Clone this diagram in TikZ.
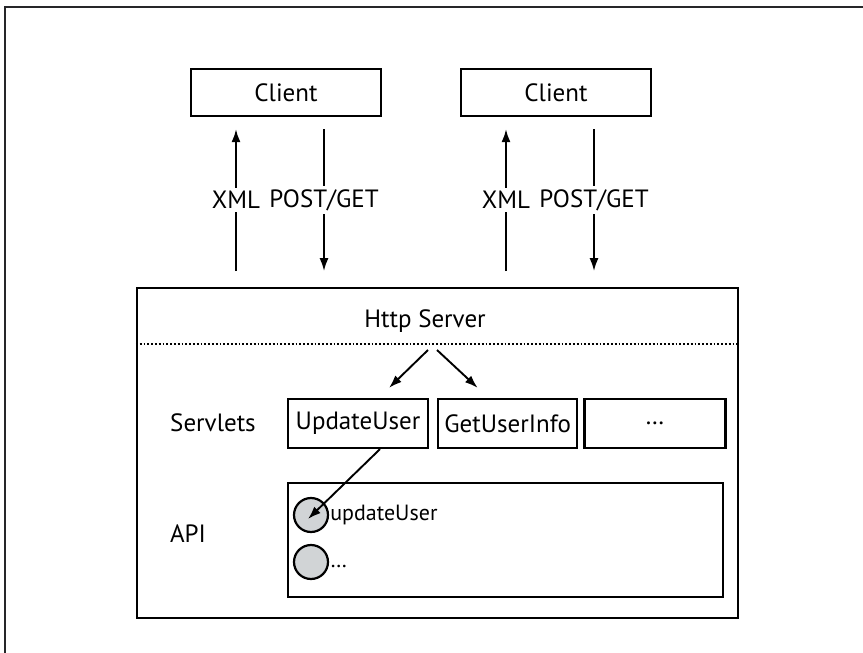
\documentclass[tikz,border=0pt]{standalone}
\usepackage{fontspec}
\setmainfont{PT Sans}
\usepackage{tikz}
\usetikzlibrary{arrows.meta,calc,positioning}
\definecolor{framegray}{rgb}{0.15,0.15,0.16}
\definecolor{methodgray}{rgb}{0.82,0.83,0.84}

\begin{document}
\begin{tikzpicture}[x=1pt, y=-1pt, font=\fontsize{25}{30}\selectfont,
    box/.style={draw, line width=2.2pt, inner sep=0pt},
    flow/.style={-{Latex[length=13pt,width=9pt]}, line width=1.9pt},
    lbl/.style={fill=white, inner sep=3pt}]
        \useasboundingbox (0,0) rectangle (863,653);
        % Draw the outer frame
        \draw[framegray, line width=2.8pt] (5,653) -- (5,7) -- (863,7);

        % Draw the two clients with their request and reply arrows
        \foreach \c/\x in {client1/286, client2/556} {
            \node[box, minimum width=190pt, minimum height=47pt] (\c) at (\x,92.5) {Client};
            \draw[flow] ([xshift=-50pt,yshift=-154pt]\c.south) -- node[lbl] {XML} ([xshift=-50pt,yshift=-12pt]\c.south);
            \draw[flow] ([xshift=38pt,yshift=-12pt]\c.south) -- node[lbl] {POST/GET} ([xshift=38pt,yshift=-154pt]\c.south);
          }

        % Draw the server box
        \node[box, minimum width=601pt, minimum height=330pt] (server) at (437.5,453) {};
        \node (http) at (425,321) {Http Server};
        \draw[line width=1.8pt, dotted] (server.west |- 0,344) -- (server.east |- 0,344);

        % Draw the servlets
        \node (servlets) at (213,423) {Servlets};
        \node[box, minimum width=140pt, minimum height=49pt] (upd) at (358,423.5) {UpdateUser};
        \node[box, minimum width=139pt, minimum height=49pt, right=8pt of upd] (info) {GetUserInfo};
        \node[box, minimum width=141pt, minimum height=49pt, right=5pt of info] (more) {\dots};

        % Draw the dispatch arrows
        \coordinate (split) at (432,350);
        \draw[flow] ([xshift=-4pt]split) -- ([xshift=31pt,yshift=10pt]upd.north);
        \draw[flow] ([xshift=5pt]split) -- ([xshift=-30pt,yshift=10pt]info.north);

        % Draw the API box with its methods
        \node (api) at (188,534) {API};
        \node[box, minimum width=435pt, minimum height=114pt] (apibox) at (505.5,540) {};
        \node[circle, draw, line width=2.2pt, fill=methodgray, minimum size=34pt, inner sep=0pt] (m1) at (311,515) {};
        \node[circle, draw, line width=2.2pt, fill=methodgray, minimum size=34pt, inner sep=0pt] (m2) at (311,562) {};
        \node[anchor=west, inner sep=1pt, font=\fontsize{22}{26}\selectfont] (m1txt) at (m1.east) {updateUser};
        \node[anchor=west, inner sep=1pt, font=\fontsize{22}{26}\selectfont, yshift=-4pt] (m2txt) at (m2.east) {\dots};

        % Draw the call arrow
        \draw[flow] ([xshift=22pt]upd.south) -- ([xshift=-3pt,yshift=-4pt]m1.center);
      \end{tikzpicture}
\end{document}
